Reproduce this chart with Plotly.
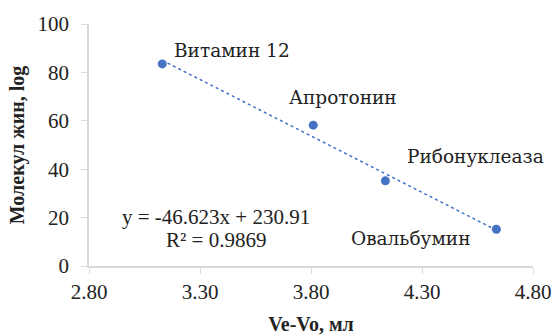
import plotly.graph_objects as go

names = ["Витамин 12", "Апротонин", "Рибонуклеаза", "Овальбумин"]
ve_vo = [3.13, 3.81, 4.135, 4.635]
mol = [83.5, 58.2, 35.2, 15.2]
slope, intercept = -46.623, 230.91
x_ticks = [2.8, 3.3, 3.8, 4.3, 4.8]
y_ticks = [0, 20, 40, 60, 80, 100]

FONT = "Liberation Serif, DejaVu Serif, serif"
CYR = "DejaVu Serif, serif"
BLUE = "#4472C4"
AXIS = "#d9d9d9"
TXT = "#222222"

fig = go.Figure()
tx = [min(ve_vo), max(ve_vo)]
fig.add_trace(go.Scatter(x=tx, y=[slope * v + intercept for v in tx], mode="lines",
                         line=dict(color=BLUE, width=1.5, dash="dot"), showlegend=False))
fig.add_trace(go.Scatter(x=ve_vo, y=mol, mode="markers",
                         marker=dict(color=BLUE, size=9), showlegend=False))

label_style = [("left", 10, 13), ("left", -26, 28), ("left", 20, 24), ("right", -23, -9)]
for n, x, y, (anc, xs, ys) in zip(names, ve_vo, mol, label_style):
    fig.add_annotation(x=x, y=y, text=n, showarrow=False, xanchor=anc, yanchor="middle",
                       xshift=xs, yshift=ys, font=dict(family=CYR, size=18.5, color=TXT))

fig.add_annotation(x=3.372, y=20.2, text=f"y = {slope}x + {intercept}", showarrow=False,
                   font=dict(family=FONT, size=21, color=TXT))
fig.add_annotation(x=3.372, y=10.7, text="R² = 0.9869", showarrow=False,
                   font=dict(family=FONT, size=21, color=TXT))

fig.update_layout(
    width=555, height=336, margin=dict(l=89, r=22, t=24, b=70),
    paper_bgcolor="white", plot_bgcolor="white",
    font=dict(family=FONT, size=21, color=TXT),
    xaxis=dict(range=[2.8, 4.8], tickvals=x_ticks, ticktext=[f"{v:.2f}" for v in x_ticks],
               showgrid=False, zeroline=False, showline=True, linecolor=AXIS, linewidth=1.5,
               ticks="outside", ticklen=6, tickcolor=AXIS, automargin=False,
               tickfont=dict(family=FONT, size=21, color=TXT),
               title=dict(text="<b>Ve-Vo, мл</b>", font=dict(family=FONT, size=20, color=TXT), standoff=14)),
    yaxis=dict(range=[0, 100], tickvals=y_ticks, showgrid=False, zeroline=False,
               showline=True, linecolor=AXIS, linewidth=1.5, automargin=False,
               ticks="outside", ticklen=6, tickcolor=AXIS, ticklabelstandoff=8,
               tickfont=dict(family=FONT, size=21, color=TXT),
               title=dict(text="<b>Молекул жин, log</b>", font=dict(family=FONT, size=20, color=TXT), standoff=8)),
)
fig.write_html("out.html")
